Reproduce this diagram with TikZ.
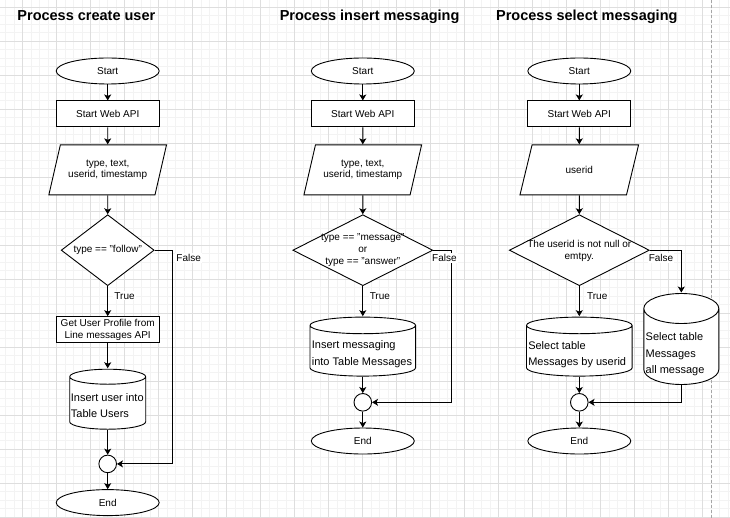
\documentclass[tikz,border=0pt]{standalone}
\usepackage{fontspec}
\setmainfont{Liberation Sans}
\usetikzlibrary{positioning, shapes.geometric, arrows.meta, calc}

\definecolor{gridmajor}{RGB}{222,222,222}
\definecolor{gridminor}{RGB}{243,243,243}

\begin{document}
\begin{tikzpicture}[
    x=1pt, y=-1pt,
    line width=0.9pt,
    node distance=16pt,
    every node/.style={font=\fontsize{10}{11.7}\selectfont},
    title/.style={anchor=base west, inner sep=0pt, font=\fontsize{14.5}{17}\selectfont\bfseries},
    terminal/.style={ellipse, draw, fill=white, minimum width=103pt, minimum height=26pt, inner sep=0pt},
    process/.style={rectangle, draw, fill=white, minimum width=103pt, minimum height=26pt,
                    inner sep=0pt, align=center},
    io/.style={trapezium, trapezium left angle=64.6, trapezium right angle=115.4, trapezium stretches=true,
               draw, fill=white, minimum width=118.7pt, minimum height=50pt, inner sep=0pt, align=center},
    decision/.style={diamond, draw, fill=white, minimum height=71pt, inner sep=0pt},
    dectext/.style={align=center, inner sep=0pt},
    dbase/.style={rectangle, inner sep=0pt, path picture={
        \draw[fill=white] let \p1=(path picture bounding box.south west), \p2=(path picture bounding box.north east),
            \n1={(\x2-\x1)/2-0.5pt} in
            (\x1+0.5pt,\y2-0.5pt-#1) -- (\x1+0.5pt,\y1+0.5pt+#1)
            arc[start angle=180, end angle=360, x radius=\n1, y radius=#1]
            -- (\x2-0.5pt,\y2-0.5pt-#1)
            arc[start angle=0, end angle=180, x radius=\n1, y radius=#1] -- cycle
            (\x1+0.5pt,\y2-0.5pt-#1) arc[start angle=180, end angle=360, x radius=\n1, y radius=#1];
    }},
    dbase/.default=8pt,
    dbtext/.style={anchor=west, align=left, inner sep=0pt, font=\fontsize{11}{16.3}\selectfont},
    junction/.style={circle, draw, fill=white, minimum size=17.6pt, inner sep=0pt},
    branch/.style={anchor=west, fill=white, inner sep=1pt},
    arrow/.style={-{Stealth[length=6pt, width=7pt, inset=1.5pt]}, line width=0.9pt}
]

\useasboundingbox (0,0) rectangle (730,518);

% Background grid
\fill[white] (0,0) rectangle (730,518);
\foreach \i in {0,...,85} \draw[gridminor, line width=0.5pt] ({5.7+8.5*\i},0) -- ({5.7+8.5*\i},518);
\foreach \i in {0,...,60} \draw[gridminor, line width=0.5pt] (0,{7+8.5*\i}) -- (730,{7+8.5*\i});
\foreach \i in {0,...,20} \draw[gridmajor, line width=0.6pt] ({22.7+34*\i},0) -- ({22.7+34*\i},518);
\foreach \i in {0,...,15} \draw[gridmajor, line width=0.6pt] (0,{7+34*\i}) -- (730,{7+34*\i});
\draw[gray!70, line width=0.8pt, dash pattern=on 3pt off 2pt] (711.7,0) -- (711.7,518);

% Process create user
\node[title] (title1) at (17,21) {Process create user};
\node[terminal] (start1) at (107.7,71) {Start};
\node[process, below=of start1] (web1) {Start Web API};
\node[io, below=17pt of web1] (in1) {type, text,\\userid, timestamp};
\node[decision, minimum width=93pt, below=19pt of in1,
      label={[dectext]center:{type == "follow"}}] (dec1) {};
\node[process, line width=1.1pt, below=30pt of dec1] (prof1) {Get User Profile from\\Line messages API};
\node[dbase=7.5pt, minimum width=77pt, minimum height=61pt, below=25pt of prof1,
      label={[dbtext, xshift=1.7pt, yshift=-6.5pt]west:{Insert user into\\Table Users}}] (db1) {};
\node[junction, below=24.5pt of db1] (join1) {};
\node[terminal, below=of join1] (end1) {End};

% Process insert messaging
\node[title] (title2) at (279.3,21) {Process insert messaging};
\node[terminal] (start2) at (362.8,71) {Start};
\node[process, below=of start2] (web2) {Start Web API};
\node[io, below=17pt of web2] (in2) {type, text,\\userid, timestamp};
\node[decision, minimum width=140pt, below=19pt of in2,
      label={[dectext]center:{type == "message"\\or\\type == "answer"}}] (dec2) {};
\node[dbase=8.3pt, minimum width=106.7pt, minimum height=60pt, below=30pt of dec2,
      label={[dbtext, xshift=2.4pt, yshift=-7.5pt]west:{Insert messaging\\into Table Messages}}] (db2) {};
\node[junction, below=of db2] (join2) {};
\node[terminal, below=of join2] (end2) {End};

% Process select messaging
\node[title] (title3) at (495.7,21) {Process select messaging};
\node[terminal] (start3) at (579.3,71) {Start};
\node[process, below=of start3] (web3) {Start Web API};
\node[io, below=17pt of web3] (in3) {userid};
\node[decision, minimum width=140pt, below=19pt of in3,
      label={[dectext, yshift=-1pt]center:{The userid is not null or\\emtpy.}}] (dec3) {};
\node[dbase=8.3pt, minimum width=106.7pt, minimum height=60pt, below=30pt of dec3,
      label={[dbtext, xshift=2.3pt, yshift=-8pt]west:{Select table\\Messages by userid}}] (db3) {};
\node[dbase=15pt, minimum width=76pt, minimum height=92pt,
      label={[dbtext, xshift=2.4pt, yshift=-15.4pt]west:{Select table\\Messages\\all message}}] (db3r) at (681.3,339) {};
\node[junction, below=of db3] (join3) {};
\node[terminal, below=of join3] (end3) {End};

% Flow arrows
\draw[arrow] (start1) -- (web1);
\draw[arrow] (web1) -- (in1);
\draw[arrow] (in1) -- (dec1);
\draw[arrow] (dec1) -- (prof1);
\draw[arrow] (prof1) -- (db1);
\draw[arrow] (db1) -- (join1);
\draw[arrow] (join1) -- (end1);
\draw[arrow] (dec1.east) -- ++(18,0) |- (join1);

\draw[arrow] (start2) -- (web2);
\draw[arrow] (web2) -- (in2);
\draw[arrow] (in2) -- (dec2);
\draw[arrow] (dec2) -- (db2);
\draw[arrow] (db2) -- (join2);
\draw[arrow] (join2) -- (end2);
\draw[arrow] (dec2.east) -- ++(18,0) |- (join2);

\draw[arrow] (start3) -- (web3);
\draw[arrow] (web3) -- (in3);
\draw[arrow] (in3) -- (dec3);
\draw[arrow] (dec3) -- (db3);
\draw[arrow] (db3) -- (join3);
\draw[arrow] (join3) -- (end3);
\draw[arrow] (dec3.east) -| (db3r);
\draw[arrow] (db3r) |- (join3);

% Labels on arrows
\node[branch] (true1) at (113,295.7) {True};
\node[branch] (false1) at (175,258) {False};
\node[branch] (true2) at (368.3,295.7) {True};
\node[branch] (false2) at (430.7,258) {False};
\node[branch] (true3) at (585.7,295.7) {True};
\node[branch] (false3) at (647.3,258) {False};

\end{tikzpicture}
\end{document}
